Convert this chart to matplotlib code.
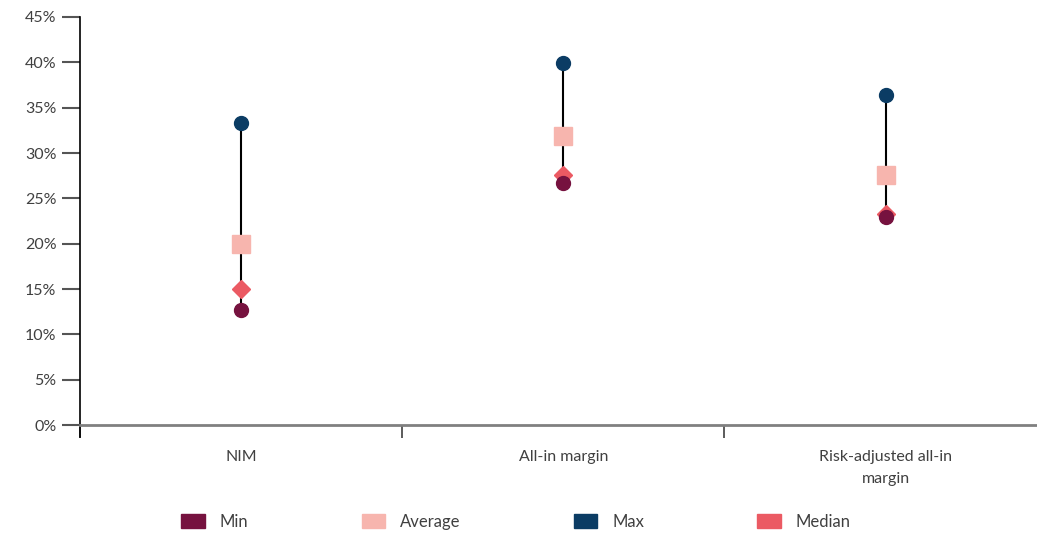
import matplotlib
matplotlib.use('Agg')
import matplotlib.pyplot as plt
from matplotlib.patches import Patch

plt.rcParams['font.family'] = ['Lato', 'DejaVu Sans']

categories = ['NIM', 'All-in margin', 'Risk-adjusted all-in\nmargin']
min_vals = [12.7, 26.7, 23.0]
avg_vals = [20.0, 31.9, 27.6]
max_vals = [33.3, 39.9, 36.4]
median_vals = [15.0, 27.6, 23.3]

c_min = '#76123F'
c_avg = '#F7B5AE'
c_max = '#0B3C64'
c_med = '#EB5A63'
txt = '#404040'

fig = plt.figure(figsize=(10.37, 5.33), dpi=100)
ax = fig.add_axes([80 / 1037, (533 - 437) / 533, 957 / 1037, (437 - 17) / 533])

x = list(range(len(categories)))
ax.vlines(x, min_vals, max_vals, color='black', lw=1.5, zorder=1)
ax.plot(x, max_vals, 'o', color=c_max, ms=10, zorder=3)
ax.plot(x, avg_vals, 's', color=c_avg, ms=13.5, zorder=3)
ax.plot(x, median_vals, 'D', color=c_med, ms=9.5, zorder=3)
ax.plot(x, min_vals, 'o', color=c_min, ms=10, zorder=4)

ax.set_ylim(-1.3, 45)
ax.set_xlim(-0.5, 2.47)
ax.set_yticks(range(0, 50, 5))
ax.set_yticklabels([f'{v}%' for v in range(0, 50, 5)])

ax.spines['top'].set_visible(False)
ax.spines['right'].set_visible(False)
ax.spines['left'].set_color('black')
ax.spines['left'].set_linewidth(1.2)
ax.spines['bottom'].set_position(('data', 0))
ax.spines['bottom'].set_color('#808080')
ax.spines['bottom'].set_linewidth(2)

ax.set_xticks([-0.5, 0.5, 1.5])
ax.set_xticklabels([])
ax.set_xticks(x, minor=True)
ax.set_xticklabels(categories, minor=True, linespacing=1.7)
ax.tick_params(axis='x', which='major', length=9, width=1.2, color='#404040', direction='out')
ax.tick_params(axis='x', which='minor', length=0, pad=18, labelsize=11.5, labelcolor=txt)
ax.tick_params(axis='y', length=13, width=1.5, color='#555555', labelsize=11.5, labelcolor=txt, pad=4)

handles = [Patch(color=c_min, label='Min'), Patch(color=c_avg, label='Average'),
           Patch(color=c_max, label='Max'), Patch(color=c_med, label='Median')]
fig.legend(handles=handles, loc='center', bbox_to_anchor=(516 / 1037, 1 - 522 / 533), ncol=4,
           frameon=False, fontsize=12, labelcolor=txt, handlelength=1.4, handleheight=0.9,
           columnspacing=6.8, handletextpad=0.9)

fig.savefig('out.png', dpi=100)
